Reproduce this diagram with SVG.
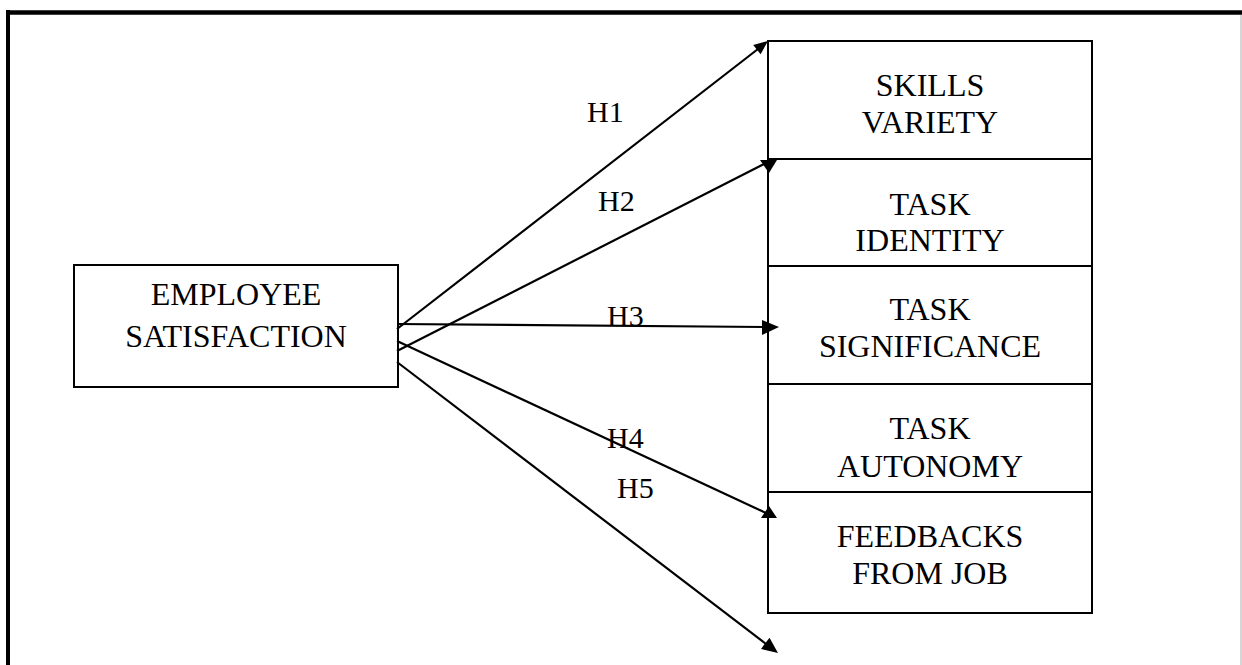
<svg xmlns="http://www.w3.org/2000/svg" width="1242" height="665" viewBox="0 0 1242 665">
<style>
.box{fill:#fff;stroke:#000;stroke-width:2}
.t{font-family:"Liberation Serif","Times New Roman",serif;font-size:32px;fill:#000;text-anchor:middle}
.lbl{font-family:"Liberation Serif","Times New Roman",serif;font-size:30px;fill:#000}
.ln{stroke:#000;stroke-width:2.2;fill:none}
.ah{fill:#000;stroke:none}
</style>
<rect width="1242" height="665" fill="#fff"/>
<g id="frame">
<line x1="6" y1="12.5" x2="1242" y2="12.5" stroke="#000" stroke-width="4.5"/>
<line x1="8" y1="10" x2="8" y2="665" stroke="#000" stroke-width="4"/>
<line x1="1241" y1="15" x2="1241" y2="665" stroke="#bbb" stroke-width="1.2"/>
</g>
<g id="employee-satisfaction">
<rect class="box" x="74" y="265" width="324" height="122"/>
<text class="t" x="236" y="305">EMPLOYEE</text>
<text class="t" x="236" y="347">SATISFACTION</text>
</g>
<g id="skills-variety">
<rect class="box" x="768" y="41" width="324" height="118"/>
<text class="t" x="930" y="96">SKILLS</text>
<text class="t" x="930" y="133">VARIETY</text>
</g>
<g id="task-identity">
<rect class="box" x="768" y="159" width="324" height="107"/>
<text class="t" x="930" y="215">TASK</text>
<text class="t" x="930" y="251">IDENTITY</text>
</g>
<g id="task-significance">
<rect class="box" x="768" y="266" width="324" height="118"/>
<text class="t" x="930" y="320">TASK</text>
<text class="t" x="930" y="357">SIGNIFICANCE</text>
</g>
<g id="task-autonomy">
<rect class="box" x="768" y="384" width="324" height="108"/>
<text class="t" x="930" y="439">TASK</text>
<text class="t" x="930" y="477">AUTONOMY</text>
</g>
<g id="feedbacks-from-job">
<rect class="box" x="768" y="492" width="324" height="121"/>
<text class="t" x="930" y="547">FEEDBACKS</text>
<text class="t" x="930" y="584">FROM JOB</text>
</g>
<g id="connectors">
<line class="ln" x1="397" y1="329" x2="758" y2="49"/>
<polygon class="ah" points="768,41 760.6,54.3 753.2,44.9"/>
<line class="ln" x1="397" y1="351" x2="766" y2="163"/>
<polygon class="ah" points="760,160 777,160 769,173"/>
<line class="ln" x1="397" y1="324" x2="765" y2="327"/>
<polygon class="ah" points="762,320 779,327 762,335"/>
<line class="ln" x1="397" y1="341" x2="766" y2="513"/>
<polygon class="ah" points="761,518 777,518 769,506"/>
<line class="ln" x1="397" y1="362" x2="766" y2="644"/>
<polygon class="ah" points="778,653 761,648.9 769.5,637.7"/>
<text class="lbl" x="587" y="122">H1</text>
<text class="lbl" x="598" y="211">H2</text>
<text class="lbl" x="607" y="326">H3</text>
<text class="lbl" x="607" y="448">H4</text>
<text class="lbl" x="617" y="498">H5</text>
</g>
</svg>
